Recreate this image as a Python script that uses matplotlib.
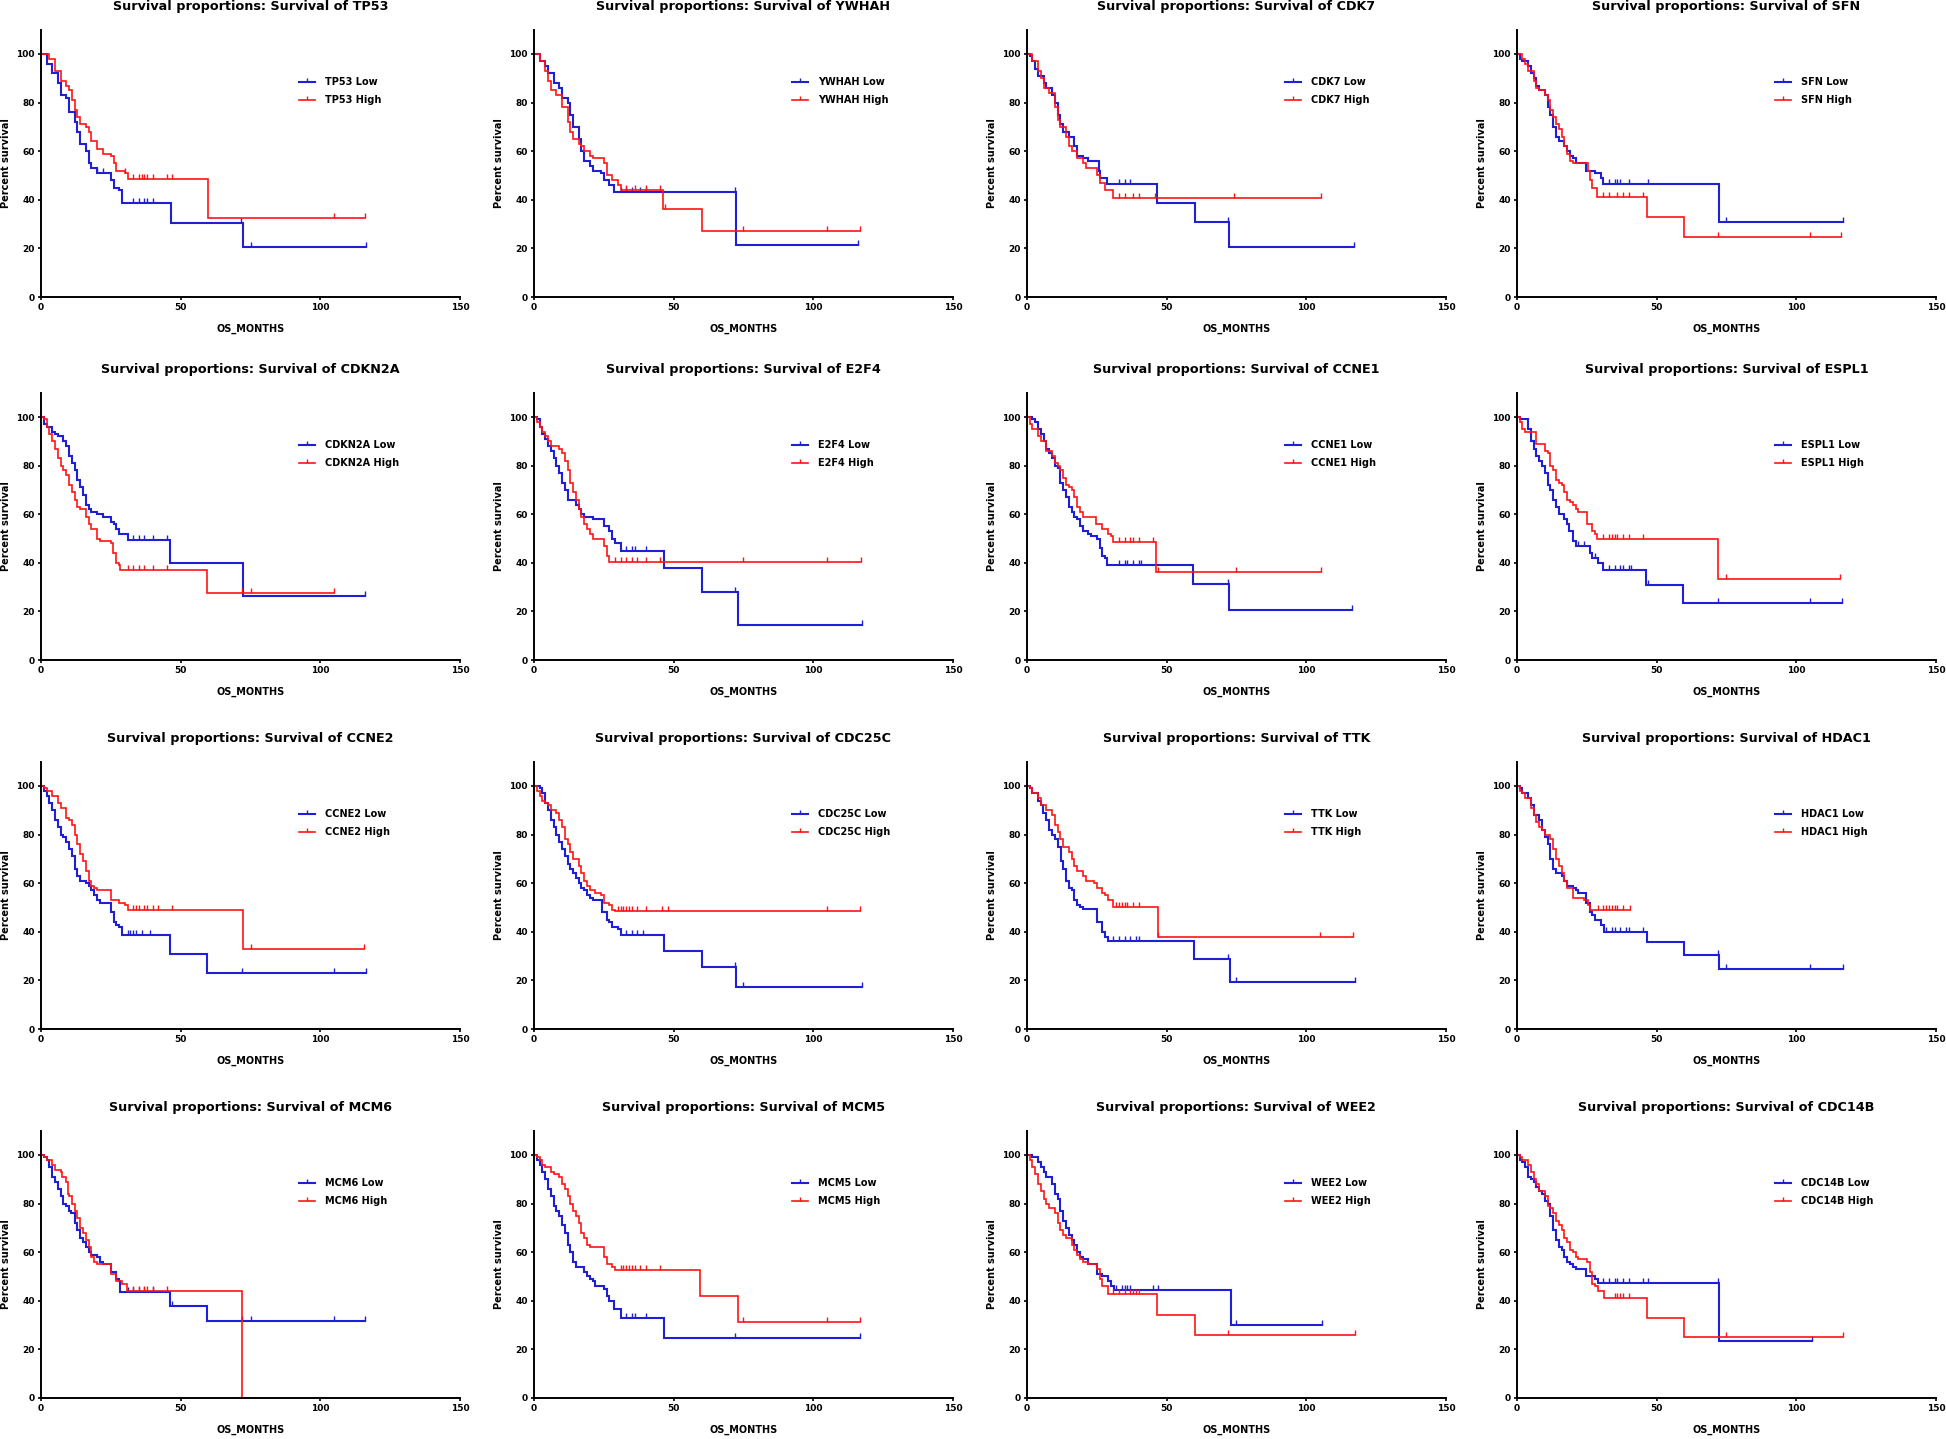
import numpy as np
import matplotlib
matplotlib.use('Agg')
import matplotlib.pyplot as plt
from matplotlib.lines import Line2D

plt.rcParams.update({'font.family': 'DejaVu Sans', 'font.weight': 'bold'})

# genes, in panel order (row by row)
genes = ['TP53', 'YWHAH', 'CDK7', 'SFN',
         'CDKN2A', 'E2F4', 'CCNE1', 'ESPL1',
         'CCNE2', 'CDC25C', 'TTK', 'HDAC1',
         'MCM6', 'MCM5', 'WEE2', 'CDC14B']

# step curves: (months, percent survival after the step)
tp53_low = [(0, 100), (2, 96), (4, 92), (6, 88), (7, 83), (9, 82), (10, 76), (12, 72), (13, 68), (14, 63), (16, 60),
            (17, 55), (18, 53), (20, 51), (25, 48), (26, 45), (28, 44), (29, 38.5), (46.4, 30.6), (72.4, 20.4),
            (116.4, 20.4)]
tp53_low_cens = [20, 22, 33, 35, 37, 38, 40, 71.5, 75, 116.4]
tp53_high = [(0, 100), (3, 98), (5, 93), (7, 89), (9, 87), (10, 85), (11, 81), (12, 77), (13, 74), (14, 71), (16, 70),
             (17, 68), (18, 64), (20, 61), (22, 59), (25, 58), (26, 55), (27, 52), (30, 51), (31, 48.6), (59.8, 32.5),
             (116, 32.5)]
tp53_high_cens = [30, 33, 35, 36, 37, 38, 40, 45, 47, 105, 116]

ywhah_low = [(0, 100), (2, 97), (4, 95), (5, 92), (7, 88), (9, 86), (10, 82), (12, 80), (13, 75), (14, 70), (16, 65),
             (17, 60), (18, 56), (20, 54), (21, 52), (24, 51), (25, 48), (27, 46), (28.7, 43.4), (72.4, 21.5),
             (116, 21.5)]
ywhah_low_cens = [31, 33, 35, 38, 40, 72, 116]
ywhah_high = [(0, 100), (2, 97), (4, 93), (5, 89), (6, 85), (8, 83), (10, 78), (12, 72), (13, 68), (14, 65), (16, 63),
              (17, 62), (18, 60), (20, 58), (21, 57), (25, 55), (26, 50), (28, 48), (30, 46), (31, 44), (46.2, 36.3),
              (60.1, 27.2), (116.6, 27.2)]
ywhah_high_cens = [33, 36, 40, 45, 47, 75, 105, 116.6]

cdk7_low = [(0, 100), (1, 99), (2, 97), (3, 94), (4, 91), (6, 88), (7, 86), (9, 83), (10, 80), (11, 75), (12, 71),
            (13, 68), (15, 66), (17, 62), (18, 58), (20, 57), (22, 56), (25.7, 52), (26, 49), (28.6, 46.4),
            (46.6, 38.7), (60.1, 30.9), (72.5, 20.6), (117, 20.6)]
cdk7_low_cens = [33, 35, 37, 72, 117]
cdk7_high = [(0, 100), (2, 97), (4, 93), (5, 90), (6, 86), (8, 84), (10, 78), (11, 73), (12, 70), (14, 66), (15, 62),
             (16, 60), (18, 57), (20, 55), (21, 53), (25, 50), (26, 47), (28, 44), (30.9, 40.8), (105.4, 40.8)]
cdk7_high_cens = [33, 35, 38, 40, 46, 74, 105.4]

sfn_low = [(0, 100), (1, 98), (2, 97), (4, 95), (5, 92), (6, 90), (7, 87), (8, 85), (10, 83), (11, 78), (12, 75),
           (13, 70), (14, 66), (15, 64), (17, 62), (18, 60), (19, 58), (20, 57), (21, 55), (24.9, 52), (28, 51),
           (30, 49), (30.9, 46.4), (72.4, 30.8), (116.6, 30.8)]
sfn_low_cens = [33, 35, 36, 37, 40, 47, 75, 116.6]
sfn_high = [(0, 100), (2, 98), (3, 96), (4, 93), (6, 89), (7, 86), (8, 85), (10, 83), (11, 81), (12, 77), (13, 74),
            (14, 71), (15, 69), (16, 66), (17, 62), (18, 59), (19, 56), (20, 55), (25.4, 52), (26, 48), (27, 45),
            (28.7, 41.3), (46.4, 32.8), (59.8, 24.7), (116, 24.7)]
sfn_high_cens = [31, 33, 36, 38, 40, 45, 72, 105, 116]

cdkn2a_low = [(0, 100), (1, 97), (2, 96), (4, 94), (5, 93), (6, 92), (8, 90), (9, 88), (10, 84), (11, 81), (12, 78),
              (13, 74), (14, 71), (15, 68), (16, 64), (17, 62), (18, 61), (20, 60), (22, 59), (25, 57), (26, 56),
              (27, 54), (28, 52), (31, 49.5), (46, 39.8), (72.2, 26.5), (116, 26.5)]
cdkn2a_low_cens = [33, 35, 37, 40, 45, 116]
cdkn2a_high = [(0, 100), (1, 99), (2, 96), (3, 93), (4, 90), (5, 87), (6, 83), (7, 80), (8, 78), (9, 76), (10, 72),
               (11, 69), (12, 66), (13, 63), (14, 62), (16, 59), (17, 56), (18, 54), (20, 50), (21, 49), (25, 48),
               (25.6, 44), (27, 40), (28, 39), (28.4, 37), (59.3, 27.5), (104.9, 27.5)]
cdkn2a_high_cens = [31, 33, 35, 37, 40, 45, 72, 75, 104.9]

e2f4_low = [(0, 100), (1, 99), (2, 96), (3, 93), (4, 91), (5, 88), (6, 86), (7, 83), (8, 80), (9, 77), (10, 73),
            (11, 70), (12, 66), (15, 64), (16, 62), (17, 60), (18, 59), (21, 58), (25, 55), (27, 53), (28, 50),
            (29, 48), (31.3, 44.9), (46.6, 37.7), (60.1, 28.2), (73, 14.3), (117.5, 14.3)]
e2f4_low_cens = [33, 35, 36, 40, 72, 117.5]
e2f4_high = [(0, 100), (1, 98), (2, 96), (3, 94), (4, 92), (5, 90), (6, 88), (9, 87), (10, 85), (11, 82), (12, 78),
             (13, 73), (14, 69), (15, 66), (16, 62), (17, 59), (18, 56), (19, 54), (20, 52), (21, 50), (25, 47),
             (26, 43), (26.8, 40.4), (117, 40.4)]
e2f4_high_cens = [29, 31, 33, 35, 37, 40, 45, 75, 105, 117]

ccne1_low = [(0, 100), (2, 99), (3, 98), (4, 95), (5, 93), (6, 90), (7, 87), (8, 85), (9, 83), (10, 80), (11, 79),
             (12, 73), (13, 70), (14, 67), (15, 63), (16, 61), (17, 59), (18, 58), (19, 55), (20, 53), (22, 52),
             (23, 51), (25, 50), (26, 46), (27, 43), (28, 42), (28.8, 39), (59.6, 31.2), (72.2, 20.8), (116.5, 20.8)]
ccne1_low_cens = [33, 35, 36, 38, 40, 41, 72, 116.5]
ccne1_high = [(0, 100), (1, 97), (2, 95), (4, 92), (5, 90), (7, 86), (9, 84), (10, 81), (11, 80), (12, 78), (13, 75),
              (14, 72), (15, 71), (16, 70), (17, 67), (18, 63), (19, 61), (20, 59), (24.8, 56), (27, 54), (29, 52),
              (30, 51), (30.8, 48.6), (46.2, 36.1), (105.2, 36.1)]
ccne1_high_cens = [33, 35, 37, 38, 40, 45, 47, 75, 105.2]

espl1_low = [(0, 100), (1, 99), (3.9, 95), (5, 90), (6, 87), (7, 84), (8, 82), (9, 80), (10, 77), (11, 72), (12, 70),
             (13, 66), (14, 63), (15, 60), (17, 58), (18, 56), (18.5, 53), (20, 49), (21, 47), (26, 44), (27, 42),
             (29, 40), (30.9, 37.2), (46.2, 30.8), (59.3, 23.3), (116.4, 23.3)]
espl1_low_cens = [22, 24, 28, 33, 35, 37, 38, 40, 41, 47, 72, 105, 116.4]
espl1_high = [(0, 100), (1, 98), (2, 95), (3, 94), (6.9, 89), (10, 86), (11, 85), (12, 80), (13, 78), (14, 74),
              (15, 73), (16, 72), (17, 69), (18, 66), (19, 65), (20, 64), (21, 62), (22, 61), (25, 56), (27, 53),
              (28, 52), (28.5, 49.9), (72.1, 33.2), (115.6, 33.2)]
espl1_high_cens = [31, 33, 34, 35, 36, 38, 40, 45, 75, 115.6]

ccne2_low = [(0, 100), (1, 98), (2, 96), (3, 93), (4, 90), (5, 86), (6, 83), (7, 80), (8, 79), (9, 77), (10, 74),
             (11, 71), (12, 66), (13, 63), (14, 61), (16, 60), (17, 59), (18, 57), (19, 55), (20, 53), (21, 52),
             (25, 48), (26.2, 44), (27, 43), (28, 42), (28.9, 38.5), (46.2, 30.9), (59.3, 23.2), (116.2, 23.2)]
ccne2_low_cens = [31, 32, 33, 34, 36, 39, 72, 105, 116.2]
ccne2_high = [(0, 100), (1, 99), (2, 98), (4, 96), (6, 93), (7, 91), (9, 87), (10, 86), (11, 84), (12, 80), (13, 76),
              (14, 72), (15, 69), (16, 65), (17, 61), (18, 59), (19, 58), (20, 57), (25.1, 53), (28, 52), (30, 51),
              (31.1, 48.8), (72.2, 32.8), (115.6, 32.8)]
ccne2_high_cens = [33, 34, 35, 37, 38, 40, 42, 47, 75, 115.6]

cdc25c_low = [(0, 100), (2, 99), (3, 97), (4, 93), (5, 90), (6, 86), (7, 83), (8, 80), (9, 77), (10, 74), (11, 71),
              (12, 68), (13, 66), (14, 64), (15, 62), (16, 60), (17, 58), (18, 57), (19, 55), (20, 54), (21, 53),
              (24.2, 48), (26, 45), (27, 44), (28, 42), (30, 41), (31, 38.5), (46.6, 31.9), (60.1, 25.7),
              (72.4, 17.1), (117.3, 17.1)]
cdc25c_low_cens = [33, 35, 37, 39, 72, 75, 117.3]
cdc25c_high = [(0, 100), (1, 98), (2, 96), (3, 94), (4, 93), (5, 92), (6, 90), (8, 89), (9, 86), (10, 83), (11, 78),
               (12, 76), (13, 73), (14, 70), (16, 67), (17, 64), (18, 61), (19, 59), (20, 57), (22, 56), (24, 55),
               (25, 52), (27, 51), (28, 49), (29.1, 48.5), (116.8, 48.5)]
cdc25c_high_cens = [30, 31, 32, 33, 34, 35, 37, 40, 46, 48, 105, 116.8]

ttk_low = [(0, 100), (1, 99), (2, 97), (4, 94), (5, 92), (5.6, 89), (7, 86), (8, 82), (9, 80), (10, 78), (11, 75),
           (12.2, 69), (13, 66), (14, 61), (15, 58), (16, 57), (17, 53), (18, 51), (19, 50), (20, 49.5), (25.1, 44),
           (27, 40), (28, 38), (28.9, 36.3), (60, 29), (72.7, 19.4), (117.3, 19.4)]
ttk_low_cens = [31, 33, 35, 37, 39, 40, 72, 75, 117.3]
ttk_high = [(0, 100), (1, 99), (2, 97), (4, 95), (5, 92), (7, 90), (9, 88), (10, 84), (11, 81), (12, 78), (13, 75),
            (15, 73), (16, 70), (17, 67), (18, 65), (20, 63), (21, 61), (24, 60), (25, 58), (27, 56), (28, 55),
            (29, 53), (30.7, 50.3), (46.9, 37.9), (116.9, 37.9)]
ttk_high_cens = [32, 33, 34, 35, 36, 38, 40, 47, 105, 116.9]

hdac1_low = [(0, 100), (1, 99), (2, 97), (4, 95), (5, 92), (6, 88), (8, 86), (9, 82), (10, 79), (11, 76), (12, 70),
             (13, 66), (14, 64), (16, 63), (17, 61), (18, 59), (20, 58), (21, 57), (22, 56), (24.9, 52), (26, 48),
             (27, 47), (28, 45), (30, 43), (31.1, 40), (46.7, 35.6), (59.8, 30.6), (72.2, 24.6), (116.7, 24.6)]
hdac1_low_cens = [32, 34, 35, 37, 39, 40, 45, 72, 75, 105, 116.7]
hdac1_high = [(0, 100), (1, 98), (2, 97), (3, 95), (5, 91), (6, 88), (7, 85), (8, 83), (9, 82), (10, 80), (12, 78),
              (13, 74), (14, 70), (15, 67), (16, 64), (17, 61), (18, 58), (20, 54), (24, 53), (25.3, 51), (26, 49),
              (27.6, 48.9), (40.4, 48.9)]
hdac1_high_cens = [29, 31, 32, 33, 34, 35, 36, 38, 40.4]

mcm6_low = [(0, 100), (1, 99), (2, 98), (3, 95), (4, 91), (5, 89), (6, 86), (7, 83), (8, 80), (9, 79), (10, 77),
            (10.8, 76), (12, 72), (13, 69), (14, 66), (15, 64), (16, 62), (17, 60), (18, 59), (20, 58), (21, 56),
            (22, 55), (24.9, 52), (27, 49), (28, 48), (28.3, 43.5), (46, 37.9), (59.4, 31.6), (116, 31.6)]
mcm6_low_cens = [31, 33, 35, 37, 40, 47, 72, 75, 105, 116]
mcm6_high = [(0, 100), (1, 99), (2, 98), (4, 96), (5, 94), (7, 93), (7.5, 91), (9, 89), (9.5, 84), (10, 83), (11, 80),
             (12, 77), (13, 74), (14, 70), (15, 68), (16, 65), (17, 62), (18, 58), (19, 56), (20, 55), (25, 51),
             (27, 48), (29, 47), (30.9, 43.9), (72.1, 0)]
mcm6_high_cens = [33, 35, 37, 38, 40, 45]

mcm5_low = [(0, 100), (1, 98), (2, 96), (3, 93), (4, 90), (5, 86), (6, 83), (7, 79), (8, 77), (9, 75), (10, 71),
            (11, 68), (12, 63), (13, 60), (14, 56), (15, 54), (18, 52), (19, 50), (20, 49), (21, 48), (22, 46),
            (25, 45), (26, 42), (27, 40), (28.7, 36.5), (31, 32.8), (46.6, 24.6), (116.8, 24.6)]
mcm5_low_cens = [33, 35, 36, 40, 72, 116.8]
mcm5_high = [(0, 100), (1, 99), (2, 98), (3, 96), (4, 95), (6, 93), (7, 92), (9, 91), (10, 88), (11, 86), (12, 83),
             (13, 80), (14, 77), (15, 75), (16, 72), (17, 68), (18, 66), (19, 63), (20, 62), (24.9, 58), (26, 55),
             (28, 54), (29.1, 52.6), (59.6, 41.8), (72.9, 31.4), (116.6, 31.4)]
mcm5_high_cens = [31, 32, 33, 34, 35, 36, 38, 40, 45, 75, 105, 116.6]

wee2_low = [(0, 100), (2, 99), (4, 97), (5, 95), (6, 93), (7, 91), (9, 88), (9.9, 84), (11, 82), (12, 77), (13, 73),
            (14, 70), (15, 67), (16, 65), (17, 63), (18, 60), (19, 58), (20, 57), (22, 55), (25, 51), (27, 50),
            (29, 48), (30, 46), (31.3, 44.4), (73, 29.9), (105.6, 29.9)]
wee2_low_cens = [32, 34, 35, 36, 37, 45, 47, 75, 105.6]
wee2_high = [(0, 100), (1, 98), (2, 95), (3, 92), (4, 88), (5, 85), (6, 82), (7, 80), (8, 78), (10, 76), (11, 72),
             (12, 69), (13, 67), (14, 66), (16, 63), (17, 61), (18, 59), (19, 57), (20, 56), (22, 55), (25, 53),
             (26, 49), (27, 46), (29, 42.9), (46.6, 34.1), (60.1, 25.8), (117.6, 25.8)]
wee2_high_cens = [31, 33, 35, 37, 38, 39, 40, 72, 117.6]

cdc14b_low = [(0, 100), (1, 98), (2, 97), (3, 95), (4, 91), (5, 90), (6, 89), (7, 87), (8, 85), (9, 84), (10, 81),
              (11, 80), (12, 75), (13, 69), (14, 65), (15, 62), (16, 61), (17, 58), (18, 56), (19, 55), (20, 54),
              (21, 53), (24.8, 50), (28, 49), (29, 47.4), (72.5, 23.6), (105.5, 23.6)]
cdc14b_low_cens = [31, 33, 35, 36, 38, 40, 45, 47, 72, 105.5]
cdc14b_high = [(0, 100), (1, 99), (2, 98), (4, 96), (5, 93), (6, 90), (7, 88), (8, 85), (10, 83), (11, 79), (12, 78),
               (13, 76), (14, 73), (15, 71), (16, 69), (17, 66), (18, 64), (19, 61), (20, 60), (21, 58), (22, 57),
               (25, 56), (26, 52), (27, 47), (28, 46), (29, 44), (31.1, 41.3), (46.6, 33), (59.8, 24.9), (116.8, 24.9)]
cdc14b_high_cens = [35, 36, 37, 38, 40, 75, 116.8]

low_curves = [tp53_low, ywhah_low, cdk7_low, sfn_low, cdkn2a_low, e2f4_low, ccne1_low, espl1_low,
              ccne2_low, cdc25c_low, ttk_low, hdac1_low, mcm6_low, mcm5_low, wee2_low, cdc14b_low]
low_cens = [tp53_low_cens, ywhah_low_cens, cdk7_low_cens, sfn_low_cens, cdkn2a_low_cens, e2f4_low_cens,
            ccne1_low_cens, espl1_low_cens, ccne2_low_cens, cdc25c_low_cens, ttk_low_cens, hdac1_low_cens,
            mcm6_low_cens, mcm5_low_cens, wee2_low_cens, cdc14b_low_cens]
high_curves = [tp53_high, ywhah_high, cdk7_high, sfn_high, cdkn2a_high, e2f4_high, ccne1_high, espl1_high,
               ccne2_high, cdc25c_high, ttk_high, hdac1_high, mcm6_high, mcm5_high, wee2_high, cdc14b_high]
high_cens = [tp53_high_cens, ywhah_high_cens, cdk7_high_cens, sfn_high_cens, cdkn2a_high_cens, e2f4_high_cens,
             ccne1_high_cens, espl1_high_cens, ccne2_high_cens, cdc25c_high_cens, ttk_high_cens, hdac1_high_cens,
             mcm6_high_cens, mcm5_high_cens, wee2_high_cens, cdc14b_high_cens]

BLUE = '#1f1fd6'
RED = '#ff1414'

# panel placement in figure fractions
col_left = [0.0211, 0.2744, 0.5277, 0.7795]
row_bottom = [0.7936, 0.5413, 0.2849, 0.0285]
ax_w = 0.2153
ax_h = 0.1858


def draw_curve(ax, curve, cens, color, lw):
    t = np.array([p[0] for p in curve])
    s = np.array([p[1] for p in curve])
    ax.step(t, s, where='post', color=color, lw=lw, solid_joinstyle='miter')
    # censored marks sit on the step value at that time
    idx = np.searchsorted(t, cens, side='right') - 1
    ax.plot(cens, s[idx], linestyle='none', marker=2, markersize=3.5, mew=1.0, color=color)


fig = plt.figure(figsize=(19.46, 14.39), dpi=100)

for i, gene in enumerate(genes):
    r, c = divmod(i, 4)
    ax = fig.add_axes([col_left[c], row_bottom[r], ax_w, ax_h])

    draw_curve(ax, low_curves[i], low_cens[i], BLUE, 1.5)
    draw_curve(ax, high_curves[i], high_cens[i], RED, 1.2)

    ax.set_xlim(0, 150)
    ax.set_ylim(0, 110)
    ax.set_xticks([0, 50, 100, 150])
    ax.set_yticks([0, 20, 40, 60, 80, 100])
    ax.spines['top'].set_visible(False)
    ax.spines['right'].set_visible(False)
    for sp in ['left', 'bottom']:
        ax.spines[sp].set_linewidth(1.4)
    ax.tick_params(length=2.5, width=1.2, labelsize=6.5, pad=2)

    ax.set_title('Survival proportions: Survival of {}'.format(gene), fontsize=9.2, fontweight='bold', pad=14)
    ax.set_xlabel('OS_MONTHS', fontsize=7, fontweight='bold')
    ax.set_ylabel('Percent survival', fontsize=7, fontweight='bold')
    ax.xaxis.set_label_coords(0.5, -0.1)
    ax.yaxis.set_label_coords(-0.072, 0.5)

    handles = [Line2D([], [], color=BLUE, lw=1.5, marker=2, markersize=3, mew=1),
               Line2D([], [], color=RED, lw=1.2, marker=2, markersize=3, mew=1)]
    ax.legend(handles, ['{} Low'.format(gene), '{} High'.format(gene)], loc='center left',
              bbox_to_anchor=(0.615, 0.77), frameon=False, fontsize=7, handlelength=1.7,
              handletextpad=1.0, labelspacing=0.8, borderpad=0, borderaxespad=0)

fig.savefig('out.png', dpi=100)
